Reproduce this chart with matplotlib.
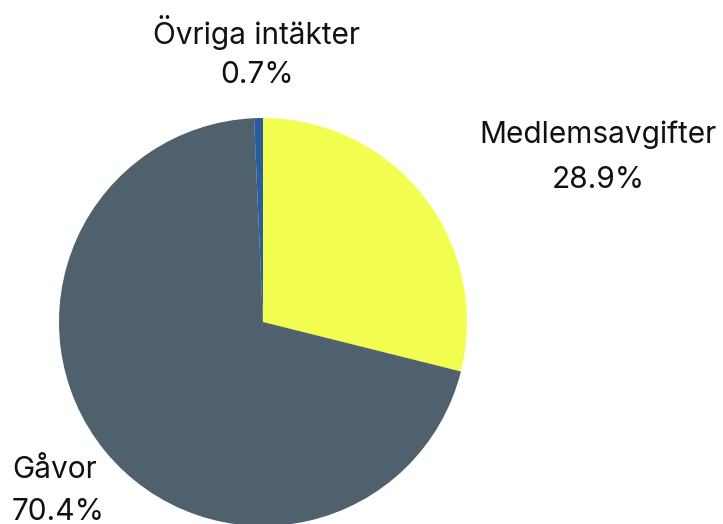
import matplotlib.pyplot as plt

categories = ["Medlemsavgifter", "Gåvor", "Övriga intäkter"]
values = [28.9, 70.4, 0.7]
colors = ["#f2ff50", "#4f616d", "#2b5c9c"]

plt.rcParams["font.family"] = ["Inter", "DejaVu Sans"]

fig = plt.figure(figsize=(7.23, 5.24), dpi=100)
ax = fig.add_axes([0, 0, 1, 1])

ax.pie(values, colors=colors, startangle=90, counterclock=False,
       center=(263, 202), radius=204, frame=True)
ax.set_xlim(0, 723)
ax.set_ylim(0, 524)
ax.set_aspect("equal")
ax.axis("off")

# label positions (pixels, y up): (x, y of name, y of pct, ha)
spots = {
    "Medlemsavgifter": (598, 389, 344, "center"),
    "Gåvor": (12, 54, 12, "left"),
    "Övriga intäkter": (257, 492, 449, "center"),
}
for name, val in zip(categories, values):
    x, y1, y2, ha = spots[name]
    ax.text(x, y1, name, ha=ha, va="center", fontsize=21.5, color="#111111")
    ax.text(x, y2, f"{val:.1f}%", ha=ha, va="center", fontsize=21.5, color="#111111")

fig.savefig("out.png", dpi=100)
